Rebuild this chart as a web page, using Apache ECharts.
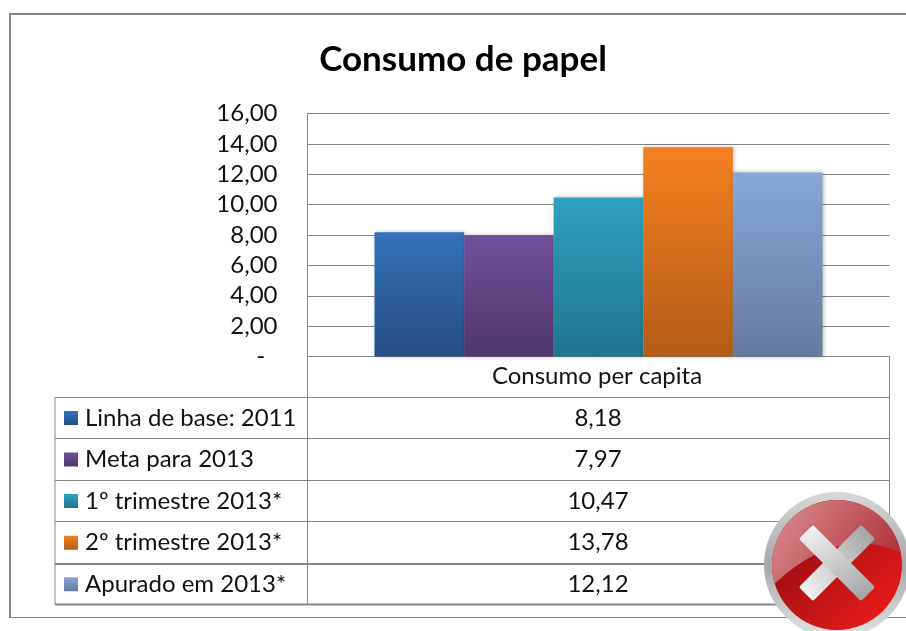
<!DOCTYPE html>
<html>
<head>
<meta charset="utf-8">
<title>Consumo de papel</title>
<script src="https://cdn.jsdelivr.net/npm/echarts@6/dist/echarts.min.js"></script>
<style>
  html, body { margin: 0; padding: 0; background: #fff; }
  #chart { width: 906px; height: 631px; }
</style>
</head>
<body>
<div id="chart"></div>
<script>
const category = 'Consumo per capita'
const seriesNames = ['Linha de base: 2011', 'Meta para 2013', '1º trimestre 2013*', '2º trimestre 2013*', 'Apurado em 2013*']
const seriesValues = [8.18, 7.97, 10.47, 13.78, 12.12]
const seriesColors = [
  ['#3470b8', '#244f84'],
  ['#71509a', '#50376d'],
  ['#30a2c2', '#20738c'],
  ['#f48020', '#b35c17'],
  ['#88a6d8', '#657a9f']
]

const FONT = 'Lato, "Noto Sans", sans-serif'
const GRAY = '#868686'

function fmt(v) {
  return v.toFixed(2).replace('.', ',')
}

function vGrad(c) {
  return new echarts.graphic.LinearGradient(0, 0, 0, 1, [
    { offset: 0, color: c[0] },
    { offset: 1, color: c[1] }
  ])
}

function line(x1, y1, x2, y2, w) {
  return {
    type: 'line',
    shape: { x1, y1, x2, y2 },
    style: { stroke: GRAY, lineWidth: w || 1 },
    silent: true
  }
}

// moldura e tabela de dados
const rowY = [397.5, 438.5, 480.5, 521.5, 564, 604.5]
const tableEls = [
  line(10, 14, 10, 617, 2),
  line(9, 14, 906, 14, 2),
  line(9, 617.5, 906, 617.5, 1),
  line(307.5, 356, 307.5, 604),
  line(889.5, 356, 889.5, 604),
  line(55, 397, 55, 604)
]
rowY.forEach((y, i) => {
  tableEls.push(line(55, y, 889, y, i === 4 || i === 5 ? 2 : 1))
})
tableEls.push({
  type: 'text',
  style: { x: 597, y: 376, text: category, font: '24px ' + FONT, fill: '#111', align: 'center', verticalAlign: 'middle' },
  silent: true
})
seriesNames.forEach((name, i) => {
  const mid = (rowY[i] + rowY[i + 1]) / 2
  tableEls.push({
    type: 'rect',
    shape: { x: 64, y: mid - 7, width: 14, height: 14 },
    style: { fill: vGrad(seriesColors[i]) },
    silent: true
  })
  tableEls.push({
    type: 'text',
    style: { x: 85, y: mid, text: name, font: '24px ' + FONT, fill: '#111', verticalAlign: 'middle' },
    silent: true
  })
  tableEls.push({
    type: 'text',
    style: { x: 598, y: mid, text: fmt(seriesValues[i]), font: '24px ' + FONT, fill: '#111', align: 'center', verticalAlign: 'middle' },
    silent: true
  })
})

// brilho da metade de cima do icone
echarts.graphic.registerShape('iconGlare', echarts.graphic.extendShape({
  shape: { cx: 0, cy: 0, r: 0 },
  buildPath(ctx, s) {
    const a0 = Math.PI - 0.29
    const a1 = 2 * Math.PI - 0.2
    ctx.arc(s.cx, s.cy, s.r, a0, a1)
    ctx.quadraticCurveTo(s.cx, s.cy - 40, s.cx + s.r * Math.cos(a0), s.cy + s.r * Math.sin(a0))
    ctx.closePath()
  }
}))

// icone vermelho com o X
const cx = 837
const cy = 565
const iconEls = [
  {
    type: 'circle',
    shape: { cx, cy, r: 73 },
    style: {
      fill: new echarts.graphic.LinearGradient(0, 0, 0, 1, [
        { offset: 0, color: '#d8d8d8' },
        { offset: 0.5, color: '#a8a8a8' },
        { offset: 1, color: '#e4e4e4' }
      ])
    },
    silent: true
  },
  {
    type: 'circle',
    shape: { cx, cy, r: 65 },
    style: {
      fill: new echarts.graphic.LinearGradient(0, 0, 1, 1, [
        { offset: 0.3, color: '#a41014' },
        { offset: 1, color: '#f41e1a' }
      ])
    },
    silent: true
  },
  {
    type: 'iconGlare',
    shape: { cx, cy, r: 65 },
    style: {
      fill: new echarts.graphic.LinearGradient(0, 0, 1, 1, [
        { offset: 0, color: '#dc9094' },
        { offset: 1, color: '#a8262c' }
      ])
    },
    silent: true
  }
]
;[45, -45].forEach(rot => {
  iconEls.push({
    type: 'rect',
    x: cx,
    y: 563,
    rotation: rot * Math.PI / 180,
    shape: { x: -44, y: -10, width: 88, height: 20, r: 2 },
    style: {
      fill: new echarts.graphic.LinearGradient(0, 0, 1, 1, [
        { offset: 0, color: '#f2f2f2' },
        { offset: 1, color: '#a4a4a4' }
      ])
    },
    silent: true
  })
})

const chart = echarts.init(document.getElementById('chart'))
chart.setOption({
  animation: false,
  backgroundColor: '#fff',
  title: {
    text: 'Consumo de papel',
    left: 458,
    top: 55,
    textAlign: 'center',
    textVerticalAlign: 'middle',
    textStyle: { fontFamily: FONT, fontSize: 35, fontWeight: 'bold', color: '#000' }
  },
  grid: { left: 307.5, top: 113.5, width: 582, height: 243 },
  xAxis: {
    type: 'category',
    data: [category],
    axisLine: { lineStyle: { color: GRAY, width: 1 } },
    axisTick: { show: false },
    axisLabel: { show: false }
  },
  yAxis: {
    type: 'value',
    min: 0,
    max: 16,
    interval: 2,
    axisLine: { show: true, lineStyle: { color: GRAY, width: 1 } },
    axisTick: { show: false },
    axisLabel: {
      margin: 30,
      fontFamily: FONT,
      fontSize: 24,
      color: '#111',
      formatter: v => (v === 0 ? '-  ' : fmt(v))
    },
    splitLine: { lineStyle: { color: GRAY, width: 1 } }
  },
  series: seriesNames.map((name, i) => ({
    name,
    type: 'bar',
    barWidth: 89.6,
    barGap: 0,
    data: [seriesValues[i]],
    itemStyle: {
      color: vGrad(seriesColors[i]),
      shadowColor: 'rgba(0,0,0,0.25)',
      shadowBlur: 4,
      shadowOffsetX: 1
    }
  })),
  graphic: tableEls.concat(iconEls)
})
</script>
</body>
</html>
